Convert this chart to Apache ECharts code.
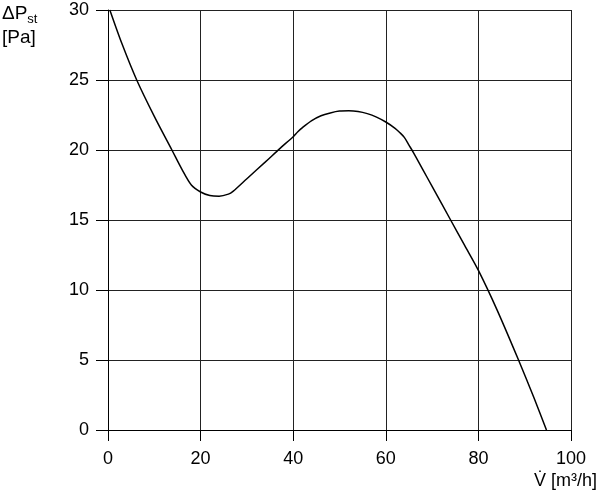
<!DOCTYPE html>
<html>
<head>
<meta charset="utf-8">
<script src="https://cdn.jsdelivr.net/npm/echarts@6/dist/echarts.min.js"></script>
<style>
  html, body { margin: 0; padding: 0; background: #fff; }
  #chart { width: 600px; height: 500px; }
</style>
</head>
<body>
<div id="chart"></div>
<script>
    // volume flow [m3/h]
    var flow = [0.4, 3, 6.2, 10, 13.8, 16, 18, 20, 22, 24, 26, 27, 30, 34, 37.1, 40, 41, 42, 44, 46, 48, 50, 52, 54, 56, 58, 60, 62, 63, 64, 65, 66, 68, 70, 74, 77, 80, 84, 88.6, 92, 94.7];
    // static pressure [Pa]
    var pressure = [30, 27.6, 25, 22.4, 20, 18.6, 17.5, 17.0, 16.75, 16.7, 16.85, 17.05, 17.95, 19.15, 20.1, 20.95, 21.3, 21.6, 22.1, 22.45, 22.65, 22.78, 22.8, 22.75, 22.6, 22.35, 22.0, 21.55, 21.25, 20.9, 20.35, 19.8, 18.6, 17.4, 15, 13.2, 11.4, 8.6, 5.05, 2.3, 0];

    var font = 'Liberation Sans, Arial, sans-serif';
    var myChart = echarts.init(document.getElementById('chart'));

    var points = [];
    for (var i = 0; i < flow.length; i++) {
        points.push([flow[i], pressure[i]]);
    }

    myChart.setOption({
        backgroundColor: '#fff',
        animation: false,
        grid: { left: 108, right: 29, top: 10, bottom: 70 },
        xAxis: {
            type: 'value',
            min: 0, max: 100, interval: 20,
            axisLine: { lineStyle: { color: '#000', width: 1 } },
            axisTick: { show: true, length: 11, lineStyle: { color: '#000' } },
            axisLabel: { color: '#000', fontSize: 18, fontFamily: font, margin: 20 },
            splitLine: { show: true, lineStyle: { color: '#222', width: 1 } }
        },
        yAxis: {
            type: 'value',
            min: 0, max: 30, interval: 5,
            axisLine: { show: true, lineStyle: { color: '#000', width: 1 } },
            axisTick: { show: true, length: 12, lineStyle: { color: '#000' } },
            axisLabel: { color: '#000', fontSize: 18, fontFamily: font, margin: 19 },
            splitLine: { show: true, lineStyle: { color: '#222', width: 1 } }
        },
        graphic: [{
            type: 'text', left: 2, top: 4,
            style: {
                text: '{a|ΔP}{s|st}',
                rich: {
                    a: { fontSize: 19, fontFamily: font, fill: '#000' },
                    s: { fontSize: 13, fontFamily: font, fill: '#000', padding: [11, 0, 0, 0] }
                }
            }
        }, {
            type: 'text', left: 2, top: 28,
            style: { text: '[Pa]', fontSize: 19, fontFamily: font, fill: '#000' }
        }, {
            type: 'text', right: 3, top: 472,
            style: { text: 'V\u0307 [m³/h]', fontSize: 18, fontFamily: font, fill: '#000' }
        }],
        series: [{
            type: 'line',
            data: points,
            smooth: 0.3,
            symbol: 'none',
            lineStyle: { color: '#000', width: 1.5 }
        }]
    });
</script>
</body>
</html>
